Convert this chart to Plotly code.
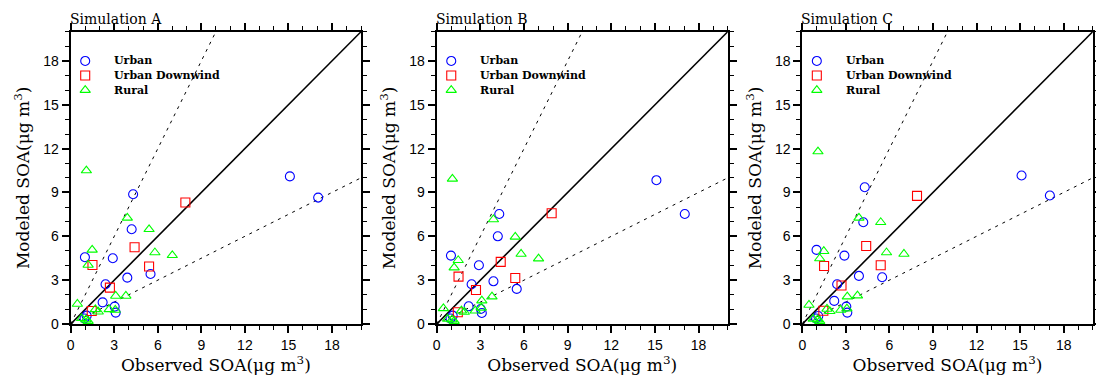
import plotly.graph_objects as go

# ---------------- data ----------------
sim_names = ["Simulation A", "Simulation B", "Simulation C"]

urban_obs = [15.1, 17.05, 4.3, 4.2, 0.98, 2.9, 3.9, 5.5, 2.4, 2.2, 3.03, 3.1, 1.1, 0.95]
urban_A = [10.1, 8.65, 8.88, 6.48, 4.57, 4.50, 3.17, 3.42, 2.72, 1.48, 1.19, 0.78, 0.57, 0.38]
urban_B = [9.84, 7.53, 7.53, 6.0, 4.68, 4.02, 2.92, 2.40, 2.72, 1.21, 1.03, 0.75, 0.57, 0.38]
urban_C = [10.16, 8.79, 9.36, 6.96, 5.07, 4.68, 3.29, 3.20, 2.72, 1.58, 1.19, 0.78, 0.55, 0.38]

down_obs = [7.9, 4.4, 5.4, 1.5, 2.7, 1.45]
down_A = [8.31, 5.25, 3.93, 4.04, 2.49, 0.89]
down_B = [7.58, 4.25, 3.15, 3.24, 2.33, 0.80]
down_C = [8.77, 5.34, 4.02, 3.97, 2.63, 0.91]

rural_obs = [1.08, 3.9, 5.4, 1.48, 5.8, 7.0, 1.2, 3.1, 3.8, 0.46, 1.7, 1.9, 2.65, 3.07, 0.75, 1.05, 1.2]
rural_A = [10.5, 7.26, 6.48, 5.07, 4.89, 4.70, 4.04, 1.92, 1.92, 1.37, 1.0, 0.84, 1.0, 0.96, 0.39, 0.3, 0.2]
rural_B = [9.93, 7.15, 5.96, 4.36, 4.79, 4.47, 3.86, 1.60, 1.87, 1.07, 0.91, 0.82, 0.91, 1.1, 0.35, 0.3, 0.2]
rural_C = [11.8, 7.26, 6.96, 4.98, 4.89, 4.79, 4.48, 1.87, 1.94, 1.30, 1.03, 0.87, 0.96, 1.05, 0.35, 0.3, 0.2]

modeled = {
    "Simulation A": (urban_A, down_A, rural_A),
    "Simulation B": (urban_B, down_B, rural_B),
    "Simulation C": (urban_C, down_C, rural_C),
}

legend_labels = ["Urban", "Urban Downwind", "Rural"]
tick_vals = [0, 3, 6, 9, 12, 15, 18]
ref_ratios = [1.0, 2.0, 0.5]
ref_x = [0, 20]

# ---------------- style ----------------
colors = ["#0000FF", "#FF0000", "#00FF00"]
symbols = ["circle-open", "square-open", "triangle-up-open"]
serif = "DejaVu Serif"
sans = "Liberation Sans"

W, H = 1096, 379
x_dom = [(70.7 / W, 361.0 / W), (436.7 / W, 727.7 / W), (802.3 / W, 1092.7 / W)]
y_dom = ((379 - 324) / H, (379 - 31.7) / H)

# legend positions (data coords in each panel)
leg_mx, leg_tx, leg_y = 1.0, 3.0, [18.0, 17.0, 16.0]

fig = go.Figure()

for i, name in enumerate(sim_names):
    xa = "x" if i == 0 else f"x{i+1}"
    ya = "y" if i == 0 else f"y{i+1}"
    obs_sets = [urban_obs, down_obs, rural_obs]
    mod_sets = modeled[name]

    # reference lines
    for r in ref_ratios:
        fig.add_trace(go.Scatter(
            x=ref_x, y=[r * v for v in ref_x], mode="lines",
            line=dict(color="black", width=1.6 if r == 1.0 else 1.0,
                      dash="solid" if r == 1.0 else "3px,5px"),
            xaxis=xa, yaxis=ya, showlegend=False, hoverinfo="skip"))

    # data
    for k in range(3):
        fig.add_trace(go.Scatter(
            x=obs_sets[k], y=mod_sets[k], mode="markers",
            marker=dict(symbol=symbols[k], size=9, color=colors[k],
                        line=dict(width=1.1, color=colors[k])),
            xaxis=xa, yaxis=ya, showlegend=False, cliponaxis=False,
            name=legend_labels[k]))

    # pseudo legend
    for k in range(3):
        fig.add_trace(go.Scatter(
            x=[leg_mx], y=[leg_y[k]], mode="markers",
            marker=dict(symbol=symbols[k], size=9, color=colors[k],
                        line=dict(width=1.1, color=colors[k])),
            xaxis=xa, yaxis=ya, showlegend=False, hoverinfo="skip"))
        fig.add_annotation(x=leg_tx, y=leg_y[k], xref=xa, yref=ya,
                           text=f"<b>{legend_labels[k]}</b>", showarrow=False,
                           xanchor="left", yanchor="middle", xshift=-2,
                           font=dict(family=serif, size=11, color="black"))

    # panel title
    fig.add_annotation(x=0, y=1.0, xref=f"{xa} domain", yref=f"{ya} domain",
                       text=name, showarrow=False, xanchor="left", yanchor="bottom",
                       yshift=3, xshift=-3,
                       font=dict(family=serif, size=14, color="black"))

    axis_common = dict(
        range=[0, 20], tickvals=tick_vals, ticks="outside", ticklen=7, tickwidth=1.5,
        tickcolor="black", showline=True, linewidth=2, linecolor="black",
        mirror="allticks", showgrid=False, zeroline=False, automargin=False,
        tickfont=dict(family=sans, size=14, color="black"),
        minor=dict(dtick=1, ticks="outside", ticklen=4, tickwidth=1, tickcolor="black",
                   showgrid=False),
    )
    fig.update_layout({
        f"xaxis{'' if i == 0 else i+1}": dict(
            axis_common, domain=list(x_dom[i]), anchor=ya,
            title=dict(text="Observed SOA(μg m<sup>3</sup>)", standoff=7,
                       font=dict(family=serif, size=17, color="black"))),
        f"yaxis{'' if i == 0 else i+1}": dict(
            axis_common, domain=list(y_dom), anchor=xa,
            title=dict(text="Modeled SOA(μg m<sup>3</sup>)", standoff=9,
                       font=dict(family=serif, size=17, color="black"))),
    })

fig.update_layout(
    width=W, height=H, margin=dict(l=0, r=0, t=0, b=0),
    paper_bgcolor="white", plot_bgcolor="white", showlegend=False,
)

fig.write_html("out.html", config={"displayModeBar": False},
               post_script="document.body.style.margin='0px';document.body.style.overflow='hidden';")
